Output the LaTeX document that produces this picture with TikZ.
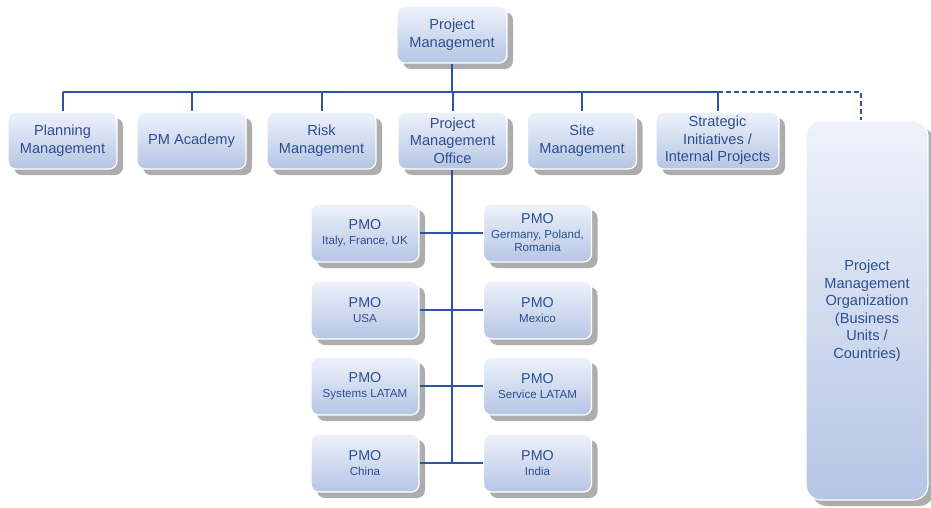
\documentclass[tikz,border=0pt]{standalone}
\usepackage{fontspec}
\setmainfont{Liberation Sans}
\usetikzlibrary{shadows}
\definecolor{txt}{HTML}{2D4E90}
\definecolor{ln}{HTML}{2B55A2}
\definecolor{topc}{HTML}{EEF2FA}
\definecolor{botc}{HTML}{B5C5E5}
\definecolor{shd}{HTML}{ADADAD}
\newcommand\pmosub[1]{{\fontsize{11.6}{13}\selectfont #1}}
\tikzset{
  box/.style={rectangle, rounded corners=8pt, draw=white, line width=1.2pt,
    top color=topc, bottom color=botc, text=txt, align=center, inner sep=0pt,
    minimum height=57pt, minimum width=109pt,
    font=\fontsize{14.6}{17.5}\selectfont,
    drop shadow={shadow xshift=6pt, shadow yshift=-6pt, fill=shd, opacity=1}},
  pmobox/.style={box, minimum width=108pt, minimum height=58pt, font=\fontsize{14.3}{15}\selectfont},
  conn/.style={draw=ln, line width=2pt},
  dconn/.style={conn, dash pattern=on 5pt off 3pt}
}
\begin{document}
\begin{tikzpicture}[x=1pt,y=-1pt]
\useasboundingbox (0,0) rectangle (931,507);
% top
\node[box, minimum width=110pt] (pm) at (452,34.5) {Project\\Management};
% level 2
\node[box] (plan) at (62.5,140.5) {Planning\\Management};
\node[box] (acad) at (191.5,140.5) {PM Academy};
\node[box] (risk) at (321.5,140.5) {Risk\\Management};
\node[box] (pmo) at (452.5,140.5) {Project\\Management\\Office};
\node[box] (site) at (582,140.5) {Site\\Management};
\node[box, minimum width=123pt] (strat) at (717.5,140.5) {Strategic\\Initiatives /\\Internal Projects};
\node[box, rounded corners=15pt, minimum width=122pt, minimum height=379pt] (org) at (867,310.5)
  {Project\\Management\\Organization\\(Business\\Units /\\Countries)};
% PMO boxes
\node[pmobox] (l1) at (365,233) {PMO\\[0pt]\pmosub{Italy, France, UK}};
\node[pmobox] (r1) at (537.5,233) {PMO\\[0pt]\pmosub{Germany, Poland,}\\[-2pt]\pmosub{Romania}};
\node[pmobox] (l2) at (365,310) {PMO\\[0pt]\pmosub{USA}};
\node[pmobox] (r2) at (537.5,310) {PMO\\[0pt]\pmosub{Mexico}};
\node[pmobox] (l3) at (365,386) {PMO\\[0pt]\pmosub{Systems LATAM}};
\node[pmobox] (r3) at (537.5,386) {PMO\\[0pt]\pmosub{Service LATAM}};
\node[pmobox] (l4) at (365,463) {PMO\\[0pt]\pmosub{China}};
\node[pmobox] (r4) at (537.5,463) {PMO\\[0pt]\pmosub{India}};
% connectors
\coordinate (bus) at (0,92);
\coordinate (dj) at (861,92);
\draw[conn] (pm.south) -- (pm.south |- bus);
\draw[conn] (plan.north |- bus) -- (strat.north |- bus);
\foreach \n in {plan,acad,risk,pmo,site,strat}
  \draw[conn] (\n.north |- bus) -- (\n.north);
\draw[dconn] (strat.north |- bus) -- (dj) -- (org.north -| dj);
\coordinate (tr) at (451.5,0);
\draw[conn] (pmo.south -| tr) -- (l4.east -| tr);
\foreach \i in {1,2,3,4}
  \draw[conn] (l\i.east) -- (r\i.west);
\end{tikzpicture}
\end{document}
